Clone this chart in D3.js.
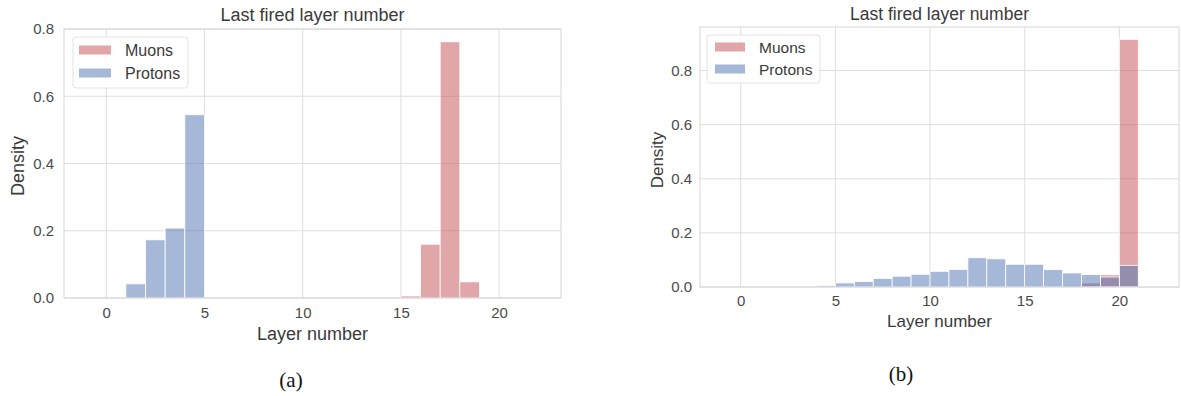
<!DOCTYPE html>
<html>
<head>
<meta charset="utf-8">
<script src="https://cdn.jsdelivr.net/npm/d3@7"></script>
<style>
  html, body { margin: 0; padding: 0; background: #fff; }
  svg { display: block; }
</style>
</head>
<body>
<svg id="chart" width="1181" height="396"></svg>
<script>
// ---------- Data ----------
const seriesNames = ["Muons", "Protons"];
const titleText = "Last fired layer number";
const xLabel = "Layer number";
const yLabel = "Density";
const xTicks = [0, 5, 10, 15, 20];
const yTicks = [0.0, 0.2, 0.4, 0.6, 0.8];
const panelLabels = ["(a)", "(b)"];

// Panel (a): bin left edges (width 1) and densities
const muonBinsA = [15, 16, 17, 18];
const muonDensityA = [0.006, 0.160, 0.762, 0.048];
const protonBinsA = [1, 2, 3, 4, 5, 6];
const protonDensityA = [0.042, 0.173, 0.208, 0.545, 0.003, 0.003];

// Panel (b)
const muonBinsB = [17, 18, 19, 20];
const muonDensityB = [0.006, 0.015, 0.045, 0.915];
const protonBinsB = [4, 5, 6, 7, 8, 9, 10, 11, 12, 13, 14, 15, 16, 17, 18, 19, 20];
const protonDensityB = [0.005, 0.015, 0.020, 0.032, 0.040, 0.047, 0.058, 0.065, 0.108, 0.104, 0.084, 0.084, 0.064, 0.052, 0.046, 0.037, 0.080];

// ---------- Styling ----------
const colors = { Muons: "#C44E52", Protons: "#4C72B0" };
const font = "'Liberation Sans', Arial, sans-serif";
const svg = d3.select("#chart");

function panel(cfg) {
  const g = svg.append("g");
  const x = d3.scaleLinear().domain([-2.15, 23.15]).range([cfg.left, cfg.right]);
  const yMax = Math.max(d3.max(cfg.muonVals), d3.max(cfg.protonVals)) * 1.05;
  const y = d3.scaleLinear().domain([0, yMax]).range([cfg.bottom, cfg.top]);

  // grid
  g.append("g").selectAll("line").data(xTicks).join("line")
    .attr("x1", d => x(d)).attr("x2", d => x(d))
    .attr("y1", cfg.top).attr("y2", cfg.bottom)
    .attr("stroke", "#dedede").attr("stroke-width", 1);
  g.append("g").selectAll("line").data(yTicks.filter(t => t <= yMax)).join("line")
    .attr("x1", cfg.left).attr("x2", cfg.right)
    .attr("y1", d => y(d)).attr("y2", d => y(d))
    .attr("stroke", "#dedede").attr("stroke-width", 1);

  // bars
  const drawBars = (bins, vals, name) => {
    g.append("g").selectAll("rect").data(bins.map((b, i) => ({ b, v: vals[i] }))).join("rect")
      .attr("x", d => x(d.b))
      .attr("width", d => x(d.b + 1) - x(d.b))
      .attr("y", d => y(d.v))
      .attr("height", d => y(0) - y(d.v))
      .attr("fill", colors[name]).attr("fill-opacity", 0.5)
      .attr("stroke", "#fff").attr("stroke-width", 0.8);
  };
  drawBars(cfg.muonBins, cfg.muonVals, "Muons");
  drawBars(cfg.protonBins, cfg.protonVals, "Protons");

  // frame
  g.append("rect").attr("x", cfg.left).attr("y", cfg.top)
    .attr("width", cfg.right - cfg.left).attr("height", cfg.bottom - cfg.top)
    .attr("fill", "none").attr("stroke", "#d6d6d6").attr("stroke-width", 1);

  // axes
  const xa = g.append("g").attr("transform", `translate(0,${cfg.bottom})`)
    .call(d3.axisBottom(x).tickValues(xTicks).tickSize(0).tickPadding(cfg.xPad).tickFormat(d3.format("d")));
  const ya = g.append("g").attr("transform", `translate(${cfg.left},0)`)
    .call(d3.axisLeft(y).tickValues(yTicks.filter(t => t <= yMax)).tickSize(0).tickPadding(cfg.yPad).tickFormat(d3.format(".1f")));
  [xa, ya].forEach(a => {
    a.select(".domain").remove();
    a.selectAll("text").attr("font-family", font).attr("font-size", cfg.tickSize).attr("fill", "#4a4a4a");
  });

  // labels
  g.append("text").attr("x", (cfg.left + cfg.right) / 2).attr("y", cfg.titleY)
    .attr("text-anchor", "middle").attr("font-family", font).attr("font-size", cfg.titleSize)
    .attr("fill", "#3a3a3a").text(titleText);
  g.append("text").attr("x", (cfg.left + cfg.right) / 2).attr("y", cfg.xLabelY)
    .attr("text-anchor", "middle").attr("font-family", font).attr("font-size", cfg.labelSize)
    .attr("fill", "#3a3a3a").text(xLabel);
  g.append("text").attr("transform", `translate(${cfg.yLabelX},${cfg.yLabelY}) rotate(-90)`)
    .attr("text-anchor", "middle").attr("dominant-baseline", "central")
    .attr("font-family", font).attr("font-size", cfg.labelSize)
    .attr("fill", "#3a3a3a").text(yLabel);

  // legend
  const L = cfg.legend;
  g.append("rect").attr("x", L.x).attr("y", L.y).attr("width", L.w).attr("height", L.h)
    .attr("rx", 3).attr("fill", "#fff").attr("fill-opacity", 0.85)
    .attr("stroke", "#e2e2e2").attr("stroke-width", 1);
  seriesNames.forEach((name, i) => {
    const cy = L.y + L.firstY + i * L.step;
    g.append("rect").attr("x", L.x + L.patchX).attr("y", cy - L.patchH / 2)
      .attr("width", L.patchW).attr("height", L.patchH)
      .attr("fill", colors[name]).attr("fill-opacity", 0.5);
    g.append("text").attr("x", L.x + L.textX).attr("y", cy)
      .attr("dominant-baseline", "central").attr("font-family", font)
      .attr("font-size", L.size).attr("fill", "#3a3a3a").text(name);
  });

  // panel label
  svg.append("text").attr("x", cfg.panelX).attr("y", cfg.panelY)
    .attr("text-anchor", "middle").attr("dominant-baseline", "central")
    .attr("font-family", "'Liberation Serif', 'Times New Roman', serif")
    .attr("font-size", 21).attr("fill", "#111").text(cfg.panelLabel);
}

panel({
  left: 64, right: 561, top: 29, bottom: 298,
  muonBins: muonBinsA, muonVals: muonDensityA,
  protonBins: protonBinsA, protonVals: protonDensityA,
  xPad: 9, yPad: 10, tickSize: 15, titleSize: 18, labelSize: 18,
  titleY: 21, xLabelY: 340, yLabelX: 18, yLabelY: 166,
  legend: { x: 73, y: 37, w: 115, h: 51, patchX: 6, patchW: 32, patchH: 9, firstY: 13, step: 23, textX: 52, size: 16 },
  panelX: 291, panelY: 380, panelLabel: panelLabels[0]
});

panel({
  left: 700, right: 1179, top: 27, bottom: 287,
  muonBins: muonBinsB, muonVals: muonDensityB,
  protonBins: protonBinsB, protonVals: protonDensityB,
  xPad: 8, yPad: 8, tickSize: 15, titleSize: 17.5, labelSize: 17,
  titleY: 20, xLabelY: 327, yLabelX: 657, yLabelY: 160,
  legend: { x: 707, y: 35, w: 113, h: 48, patchX: 8, patchW: 30, patchH: 9, firstY: 12, step: 22, textX: 52, size: 15.5 },
  panelX: 901, panelY: 374, panelLabel: panelLabels[1]
});
</script>
</body>
</html>
